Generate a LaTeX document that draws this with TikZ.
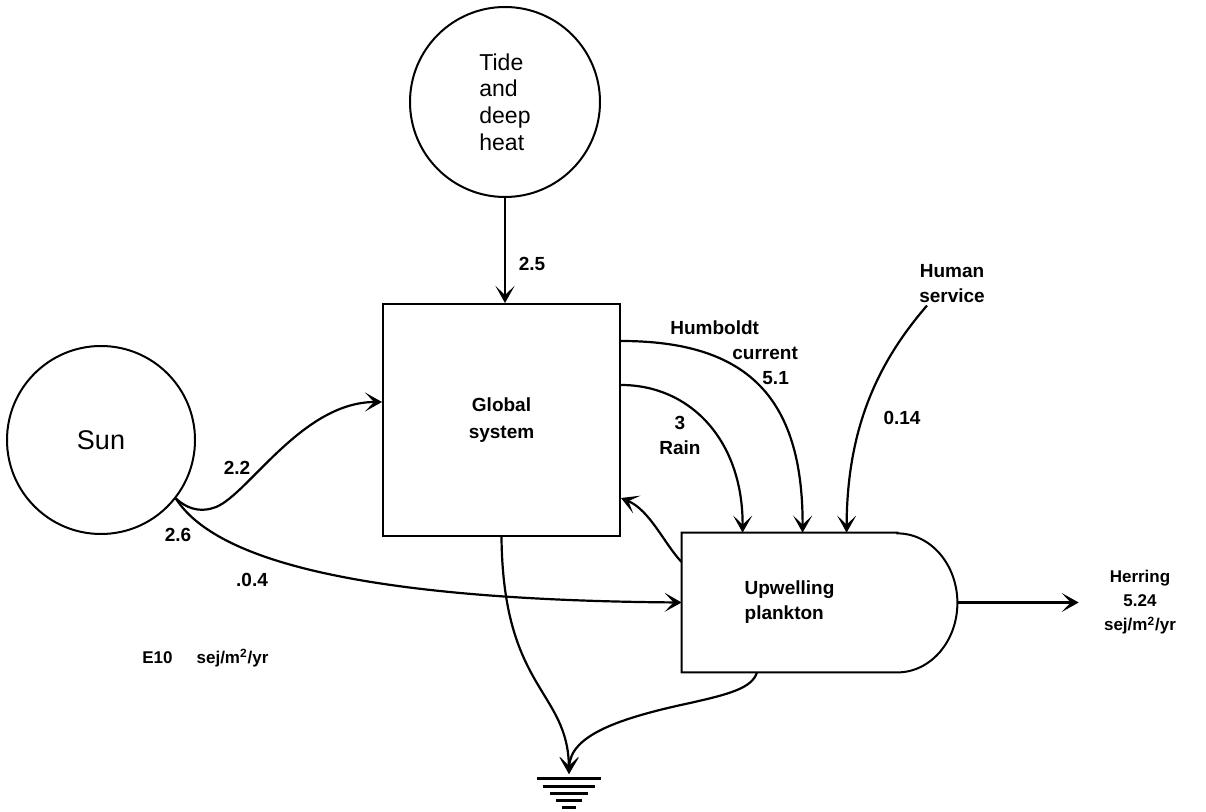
\documentclass[tikz,border=0pt]{standalone}
\usepackage{fontspec}
\setmainfont{Liberation Sans}
\usetikzlibrary{arrows.meta, positioning, calc}

\begin{document}
\begin{tikzpicture}[
    x=0.5pt, y=-0.5pt,
    >={Stealth[length=8.5pt, width=9.5pt, inset=4.5pt]}, % 矢印の形
    % エネルギー源（円）
    source/.style={circle, draw, line width=1pt, inner sep=0pt},
    % 貯蔵ブロック
    block/.style={rectangle, draw, line width=1pt, minimum width=118.5pt, minimum height=116pt, align=center, font=\bfseries\fontsize{9.5}{13.5}\selectfont},
    % 消費者（D形）の四角部分
    consumer/.style={rectangle, minimum width=107.5pt, minimum height=69.5pt, align=left, font=\bfseries\fontsize{9.5}{12.5}\selectfont},
    flow/.style={->, line width=1.1pt},
    lbl/.style={inner sep=1pt, align=center, font=\bfseries\fontsize{9.5}{12.5}\selectfont},
    small/.style={inner sep=1pt, align=center, font=\bfseries\fontsize{8.5}{12}\selectfont}
]
\useasboundingbox (0,0) rectangle (1206,812);

% 1. 各要素（ノード）の配置
\node [source, minimum size=95pt, align=left, font=\fontsize{11.5}{13.3}\selectfont] (tide) at (505,102) {Tide\\and\\deep\\heat};
\node [source, minimum size=94pt, font=\fontsize{13.5}{16}\selectfont] (sun) at (101,440) {Sun};
\node [block] (global) at (501.5,420) {Global\\system};
\node [consumer] (upw) at (789.5,602.5) {Upwelling\\plankton};
\node [lbl] (human) at (952,284) {Human\\service};
\node [small] (herring) at (1140,602.5) {Herring\\5.24\\sej/m\textsuperscript{2}/yr};
\coordinate (sink) at (569,774);

% 消費者の外形（右側は半円）
\draw [line width=1pt] (upw.north east) -- (upw.north west) -- (upw.south west) -- (upw.south east)
    arc [start angle=-90, end angle=90, x radius=30pt, y radius=34.75pt] -- cycle;
\coordinate (upwtip) at ([xshift=30pt]upw.east);

% 2. 流れの値
\node [lbl] (v25) at (532,264) {2.5};
\node [lbl] (v22) at (237,468) {2.2};
\node [lbl] (v26) at (178,535) {2.6};
\node [lbl] (v04) at (252,580) {.0.4};
\node [lbl] (v014) at (902,418) {0.14};
\node [lbl] (rain) at (680,435) {3\\Rain};
\node [lbl, anchor=west, align=left] (humboldt) at (668,353) {Humboldt\\\hspace*{31pt}current\\\hspace*{46pt}5.1};
\node [small, anchor=west] (unit) at (140,658) {E10\hspace{12pt}sej/m\textsuperscript{2}/yr};

% 3. 要素同士を線（矢印）で結ぶ
\draw [flow] (tide.south) -- (tide.south |- global.north);
\draw [flow] (sun.-38) .. controls (185,507) and (198,513) .. (213,508)
    .. controls (245,500) and (300,402) .. ([yshift=9pt]global.west);
\draw [flow] (sun.-38) .. controls (215,560) and (360,600) .. (upw.west);
\draw [flow] ([yshift=39.5pt]global.east) .. controls (745,341) and (803,395) .. ([xshift=60.5pt]upw.north west);
\draw [flow] ([yshift=17.5pt]global.east) .. controls (690,385) and (743,440) .. ([xshift=30.5pt]upw.north west);
\draw [flow] ([xshift=-12.5pt]human.south) .. controls (880,360) and (847,425) .. ([xshift=82.5pt]upw.north west);
\draw [flow] ([yshift=20.25pt]upw.west) .. controls (665,545) and (650,510) .. ([yshift=-39pt]global.east);
\draw [flow] (upwtip) -- ([xshift=-11.5pt]herring.west);

% 4. 熱の散逸（グラウンド記号）
\draw [flow] (global.south) .. controls (503,690) and (568,690) .. (sink);
\draw [flow] ([xshift=-16.25pt]upw.south) .. controls (752,688) and (730,694) .. (690,703)
    .. controls (620,718) and (570,735) .. (sink);
\foreach \dy/\w in {4/32, 12/26, 19/19, 26/13, 33/7}
    \draw [line width=1.5pt] ($(sink)+(-\w,\dy)$) -- ($(sink)+(\w,\dy)$);

\end{tikzpicture}
\end{document}
